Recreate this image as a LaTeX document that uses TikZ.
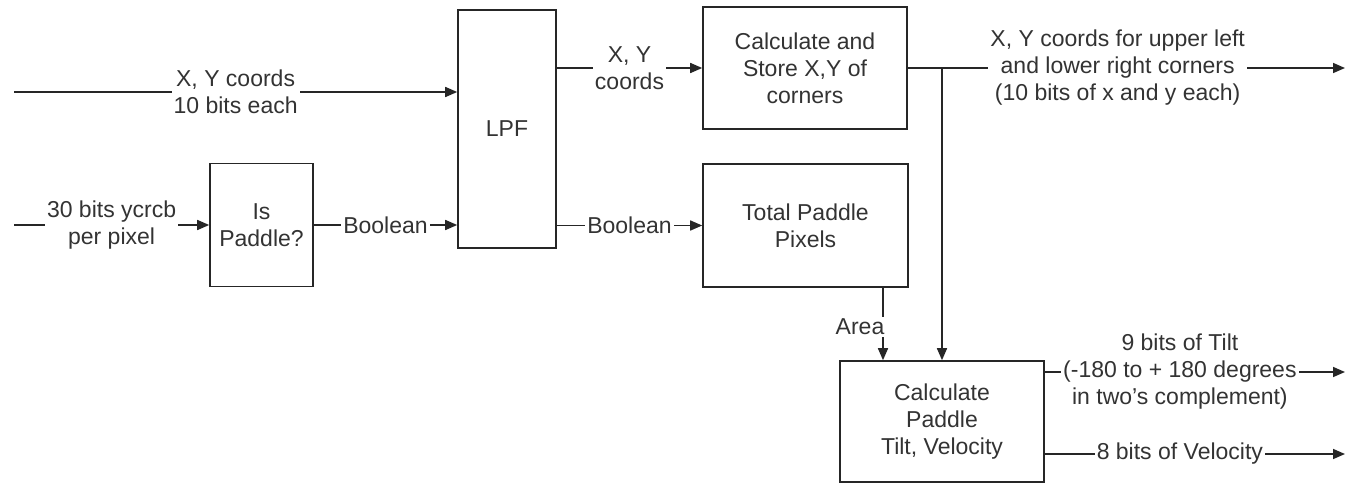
\documentclass[tikz,border=0pt]{standalone}
\usepackage{fontspec}
\setmainfont{Liberation Sans}
\usepackage{tikz}
\usetikzlibrary{arrows.meta,positioning,calc}
\tikzset{
  blk/.style={draw=black!85, line width=0.8pt, fill=white, align=center,
              text=black!80, inner sep=2pt},
  lbl/.style={fill=white, align=center, inner sep=1pt, text=black!80},
  wire/.style={draw=black!85, line width=0.8pt, -{Triangle[length=6pt,width=5pt]}},
}

\begin{document}
\begin{tikzpicture}[x=0.5pt, y=-0.5pt, font=\fontsize{11.5}{13.5}\selectfont]
    \useasboundingbox (0,0) rectangle (1346,483);
    % blocks
    \node[blk, minimum width=51.5pt, minimum height=61.5pt] (isp) at (261.5,225) {Is\\Paddle?};
    \node[blk, minimum width=49pt, minimum height=119pt] (lpf) at (507,129) {LPF};
    \node[blk, minimum width=102pt, minimum height=61pt] (cst) at (805,68) {Calculate and\\Store X,Y of\\corners};
    \node[blk, minimum width=102.5pt, minimum height=61.5pt] (tot) at (805.5,225.5) {Total Paddle\\Pixels};
    \node[blk, minimum width=102pt, minimum height=60.5pt] (ctv) at (942,421.5) {Calculate\\Paddle\\Tilt, Velocity};
    % free ends
    \coordinate (in1) at (14,92);
    \coordinate (in2) at (14,225);
    \coordinate (out1) at (1345,68);
    \coordinate (out2) at (1345,372);
    \coordinate (out3) at (1345,454);
    \coordinate (area) at ($(tot.south)+(77.5,0)$);
    % signals
    \draw[wire] (in1) -- node[lbl]{X, Y coords\\10 bits each} (in1 -| lpf.west);
    \draw[wire] (in2) -- node[lbl]{30 bits ycrcb\\per pixel} (isp.west);
    \draw[wire] (isp.east) -- node[lbl]{Boolean} (isp.east -| lpf.west);
    \draw[wire] (lpf.east |- cst.west) -- node[lbl]{X, Y\\coords} (cst.west);
    \draw[wire] (lpf.east |- tot.west) -- node[lbl]{Boolean} (tot.west);
    \draw[wire] (cst.east) -- node[lbl, pos=0.48]{X, Y coords for upper left\\and lower right corners\\(10 bits of x and y each)} (out1);
    \draw[wire] (cst.east -| ctv.north) -- (ctv.north);
    \draw[wire] (area) -- node[lbl, pos=0.54, xshift=-11.5pt]{Area} (area |- ctv.north);
    \draw[wire] (out2 -| ctv.east) -- node[lbl, pos=0.45]{9 bits of Tilt\\(-180 to + 180 degrees\\in two's complement)} (out2);
    \draw[wire] (out3 -| ctv.east) -- node[lbl, pos=0.45]{8 bits of Velocity} (out3);
\end{tikzpicture}
\end{document}
